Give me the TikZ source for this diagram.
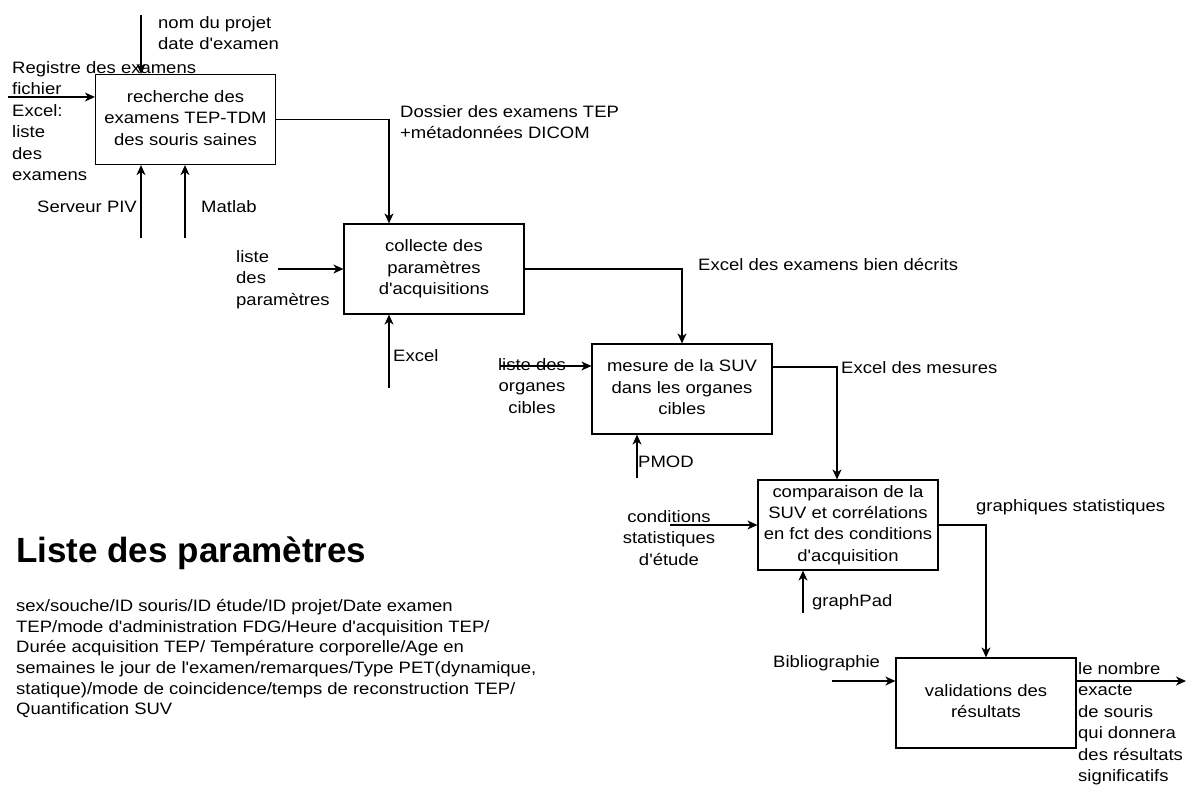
\documentclass[tikz,border=0pt]{standalone}
\usepackage{fontspec}
\usetikzlibrary{arrows.meta}
\newfontfamily\labf{Liberation Sans}[FakeStretch=1.12]
\newfontfamily\ttlf{Liberation Sans}
\tikzset{
  lab/.style={font=\labf\fontsize{16.5}{21.5}\selectfont, inner sep=0pt, align=left, anchor=north west, text=black},
  box/.style={draw, line width=1.2pt, minimum width=180pt, minimum height=90pt, inner sep=0pt, align=center, font=\labf\fontsize{16.5}{21.3}\selectfont},
  arr/.style={line width=1.2pt, -{Stealth[length=10pt,width=9pt,inset=3pt]}},
}
\begin{document}
\begin{tikzpicture}[x=1pt,y=-1pt]
\useasboundingbox (0,0) rectangle (1187,785);
% boxes
\node[box] (b1) at (185.5,119.5) {\strut recherche des\\examens TEP-TDM\\des souris saines\strut};
\node[box] (b2) at (434,269) {\strut collecte des\\paramètres\\d'acquisitions\strut};
\node[box] (b3) at (682,389) {\strut mesure de la SUV\\dans les organes\\cibles\strut};
\node[box] (b4) at (848,525) {\strut comparaison de la\\SUV et corrélations\\en fct des conditions\\d'acquisition\strut};
\node[box] (b5) at (986,703) {\strut validations des\\résultats\strut};
% labels
\node[lab] (l1) at (158,13) {\strut nom du projet\\date d'examen};
\node[lab] (l2) at (12,58) {\strut Registre des examens\\fichier\\Excel:\\liste\\des\\examens};
\node[lab] (l3) at (37,197) {\strut Serveur PIV};
\node[lab] (l4) at (201,197) {\strut Matlab};
\node[lab] (l5) at (400,102) {\strut Dossier des examens TEP\\+métadonnées DICOM};
\node[lab] (l6) at (236,247) {\strut liste\\des\\paramètres};
\node[lab] (l7) at (393,346) {\strut Excel};
\node[lab] (l8) at (698,255) {\strut Excel des examens bien décrits};
\node[lab, align=center, anchor=north] (l9) at (532,355) {\strut liste des\\organes\\cibles};
\node[lab] (l10) at (638,452) {\strut PMOD};
\node[lab] (l11) at (841,358) {\strut Excel des mesures};
\node[lab, align=center, anchor=north] (l12) at (669,507) {\strut conditions\\statistiques\\d'étude};
\node[lab] (l13) at (812,591) {\strut graphPad};
\node[lab] (l14) at (976,496) {\strut graphiques statistiques};
\node[lab] (l15) at (773,652) {\strut Bibliographie};
\node[lab] (l16) at (1078,659) {\strut le nombre\\exacte\\de souris\\qui donnera\\des résultats\\significatifs};
\node[font=\ttlf\bfseries\fontsize{35}{40}\selectfont, anchor=base west, inner sep=0pt] (t) at (16,562) {Liste des paramètres};
\node[lab, font=\labf\fontsize{16.5}{20.6}\selectfont] (p) at (16,597) {\strut sex/souche/ID souris/ID étude/ID projet/Date examen\\TEP/mode d'administration FDG/Heure d'acquisition TEP/\\Durée acquisition TEP/ Température corporelle/Age en\\semaines le jour de l'examen/remarques/Type PET(dynamique,\\statique)/mode de coincidence/temps de reconstruction TEP/\\Quantification SUV};
% connectors
\coordinate (i1) at (141,15);
\draw[arr] (i1) -- (i1 |- b1.north);
\coordinate (i2) at (8,97);
\draw[arr] (i2) -- (i2 -| b1.west);
\coordinate (c1a) at (141,238);
\draw[arr] (c1a) -- (c1a |- b1.south);
\coordinate (c1b) at (185,238);
\draw[arr] (c1b) -- (c1b |- b1.south);
\draw[arr] (b1.east) -| ([xshift=-45pt]b2.north);
\coordinate (i3) at (278,269);
\draw[arr] (i3) -- (b2.west);
\coordinate (c2) at (389,388);
\draw[arr] (c2) -- (c2 |- b2.south);
\draw[arr] (b2.east) -| (b3.north);
\coordinate (i4) at (500,366);
\draw[arr] (i4) -- (i4 -| b3.west);
\coordinate (c3) at (637,478);
\draw[arr] (c3) -- (c3 |- b3.south);
\draw[arr] ([yshift=22pt]b3.east) -| ([xshift=-11pt]b4.north);
\coordinate (i5) at (670,525);
\draw[arr] (i5) -- (b4.west);
\coordinate (c4) at (803,613);
\draw[arr] (c4) -- (c4 |- b4.south);
\draw[arr] (b4.east) -| (b5.north);
\coordinate (i6) at (832,681);
\draw[arr] (i6) -- (i6 -| b5.west);
\coordinate (o6) at (1186,681);
\draw[arr] ([yshift=22pt]b5.east) -- (o6);
\end{tikzpicture}
\end{document}
